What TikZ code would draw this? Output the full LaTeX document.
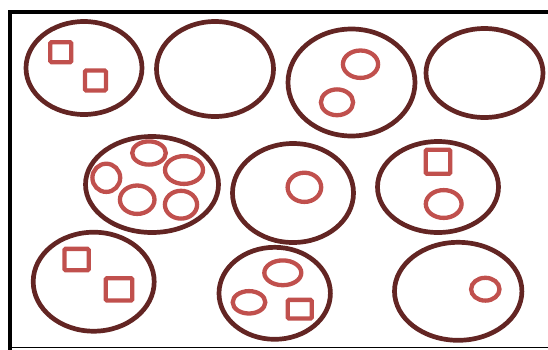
\documentclass[tikz,border=0pt]{standalone}
\usepackage{xcolor}
\usepackage{tikz}

\definecolor{cellrim}{HTML}{632523}
\definecolor{cellbit}{HTML}{C0504D}

\tikzset{
  cell/.style={draw=cellrim,line width=4.7pt},
  blob/.style={draw=cellbit,line width=4.3pt},
  chip/.style={draw=cellbit,line width=4.3pt,rounded corners=1.2pt}
}

\begin{document}
\begin{tikzpicture}[x=1pt,y=-1pt]
  \useasboundingbox (0,0) rectangle (548,349);
  % frame
  \draw[line width=1pt] (10,347.6)--(548,347.6);
  \draw[line width=4.5pt] (10.2,352)--(10.2,12.2)--(552,12.2);
  % outer cells: x/y/rx/ry
  \foreach \x/\y/\rx/\ry in {84/68/58/46.5, 215/69/58.5/47.5, 351.5/82.5/63.5/53.5, 484.5/73/58.5/44.5,
                             152/184.5/66.5/48, 293/193/60.5/49.5, 438/187/60.5/45.5,
                             93.7/281.7/60.5/49.5, 274.7/293.3/55.7/46, 458.2/291.3/63.7/49}
    \draw[cell] (\x,\y) ellipse[x radius=\rx,y radius=\ry];
  % round bits
  \foreach \x/\y/\rx/\ry in {360.5/64.2/17.6/13.7, 337/102.3/16.1/12.9,
                             149/153/16.8/11.6, 184/170/19/13.9, 106.3/177.8/13.9/14.1,
                             137.2/199.7/17.3/14.2, 181/204.7/16.1/13.9,
                             304.4/187.3/16.8/14.6, 443.7/204/17.9/13.9,
                             282.8/272.8/18.5/12.4, 249/302.3/16.3/11.2, 485.3/289.2/14.2/11.4}
    \draw[blob] (\x,\y) ellipse[x radius=\rx,y radius=\ry];
  % square bits: x/y/w/h
  \foreach \x/\y/\w/\h in {60.8/52.2/21/20, 95.4/80.5/21/20,
                           438/161.8/24.5/24,
                           76.6/259.5/24.3/21.3, 119/289.3/26.5/22.3,
                           299.7/309.2/23.9/18.7}
    \draw[chip] (\x-\w/2,\y-\h/2) rectangle (\x+\w/2,\y+\h/2);
\end{tikzpicture}
\end{document}
